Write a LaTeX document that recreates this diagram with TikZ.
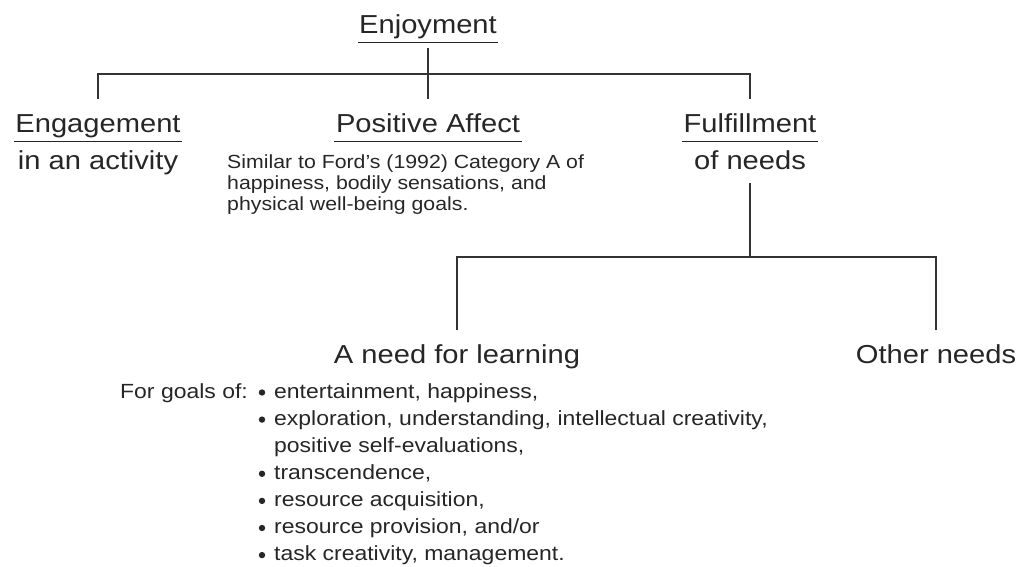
\documentclass[tikz,border=0pt]{standalone}
\usepackage{fontspec}
\setmainfont[FakeStretch=1.12]{Liberation Sans}
\definecolor{ink}{HTML}{262626}
\definecolor{wire}{HTML}{333333}

\begin{document}
\begin{tikzpicture}[x=1pt,y=-1pt,
    every node/.style={text=ink, inner sep=0pt},
    head/.style={font=\fontsize{26}{30}\selectfont, anchor=base, inner xsep=1.5pt,
        text height=19pt, text depth=8pt},
    body/.style={font=\fontsize{26}{30}\selectfont, anchor=base,
        text height=19pt, text depth=6pt},
    note/.style={font=\fontsize{19}{22}\selectfont, anchor=base west},
    item/.style={font=\fontsize{20.5}{27}\selectfont, anchor=base west},
    uline/.style={draw=ink, line width=1.3pt},
    link/.style={draw=wire, line width=1.6pt}]
    \useasboundingbox (0,0) rectangle (1023,567);

    % draw the headings
    \node[head] (enjoy) at (428,34) {Enjoyment};
    \node[head] (engage) at (98,133) {Engagement};
    \node[head] (affect) at (428,133) {Positive Affect};
    \node[head] (fulfil) at (750,133) {Fulfillment};
    \foreach \n in {enjoy,engage,affect,fulfil}
        \draw[uline] (\n.south west) -- (\n.south east);

    % the text under the headings
    \node[body] (activity) at (98,169) {in an activity};
    \node[body] (needs) at (750,169) {of needs};
    \foreach \k/\txt in {
        0/{Similar to Ford's (1992) Category A of},
        1/{happiness, bodily sensations, and},
        2/{physical well-being goals.}}
    \node[note] (similar\k) at (227,{168+21.5*\k}) {\txt};

    % the two kinds of needs
    \node[body] (learn) at (457,363) {A need for learning};
    \node[body] (other) at (936,363) {Other needs};

    % draw the goals with their bullets
    \node[item] (goals) at (120,398) {For goals of:};
    \foreach \k/\txt in {
        0/{entertainment, happiness,},
        1/{exploration, understanding, intellectual creativity,},
        3/{transcendence,},
        4/{resource acquisition,},
        5/{resource provision, and/or},
        6/{task creativity, management.}} {
        \node[item] (goal\k) at (274,{398+27.1*\k}) {\txt};
        \fill[ink] (262,{398+27.1*\k-5.5}) circle (3.2);
    }
    \node[item] (goal2) at (274,{398+27.1*2}) {positive self-evaluations,};

    % draw the connectors
    \coordinate (topbus) at (428,74);
    \coordinate (lowbus) at (750,257);
    \draw[link, shorten <=6pt, shorten >=15pt] (enjoy.south) -- (affect.north);
    \draw[link, shorten <=15pt, shorten >=15pt] (engage.north) |- (topbus) -| (fulfil.north);
    \draw[link, shorten <=8pt] (needs.south) -- (lowbus);
    \draw[link, shorten <=14pt, shorten >=14pt] (learn.north) |- (lowbus) -| (other.north);
\end{tikzpicture}
\end{document}
